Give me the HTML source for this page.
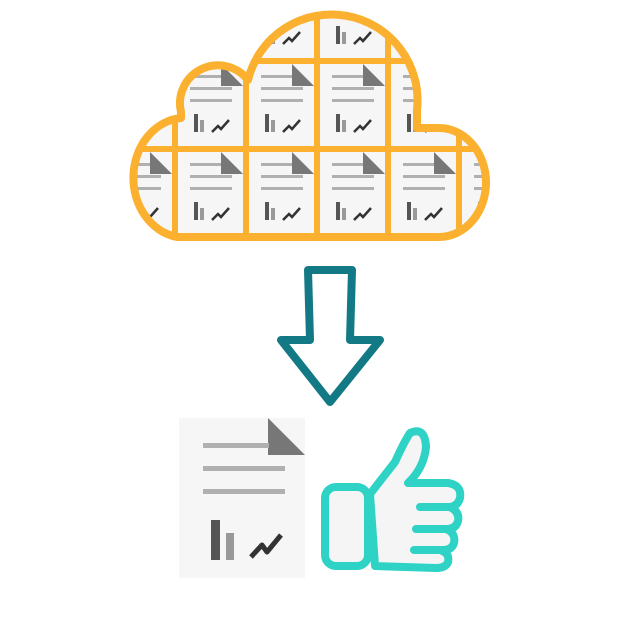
<!DOCTYPE html>
<html><head><meta charset="utf-8"><style>html,body{margin:0;padding:0;background:#fff}svg{display:block}</style></head>
<body>
<svg width="644" height="644" viewBox="0 0 644 644" xmlns="http://www.w3.org/2000/svg">
<defs>
<g id="doc">
<rect x="0" y="0" width="65" height="82" fill="#f6f6f6"/>
<polygon points="43,0 65,22 43,22" fill="#777"/>
<rect x="12" y="11" width="31" height="3" fill="#b0b0b0"/>
<rect x="12" y="23" width="42" height="3" fill="#b0b0b0"/>
<rect x="12" y="35" width="42" height="3" fill="#b0b0b0"/>
<rect x="16" y="50" width="4" height="18" fill="#555"/>
<rect x="22" y="56" width="4" height="12" fill="#999"/>
<polyline points="34,68 40,62 43,65 51,56" fill="none" stroke="#333" stroke-width="2.5"/>
</g>
<path id="cloud" d="M177,237 A52,60 0 0 1 181,118 L181,112 A38,38 0 0 1 248,80 A86,86 0 0 1 417,110 L417,128 L438,128 A47,54.5 0 0 1 440,237 Z"/>
<clipPath id="cl"><use href="#cloud"/></clipPath>
</defs>
<use href="#cloud" fill="#fbb12f"/>
<g clip-path="url(#cl)">
<use href="#doc" x="107" y="-24"/><use href="#doc" x="178" y="-24"/><use href="#doc" x="249" y="-24"/><use href="#doc" x="320" y="-24"/><use href="#doc" x="391" y="-24"/><use href="#doc" x="462" y="-24"/>
<use href="#doc" x="107" y="64"/><use href="#doc" x="178" y="64"/><use href="#doc" x="249" y="64"/><use href="#doc" x="320" y="64"/><use href="#doc" x="391" y="64"/><use href="#doc" x="462" y="64"/>
<use href="#doc" x="107" y="152"/><use href="#doc" x="178" y="152"/><use href="#doc" x="249" y="152"/><use href="#doc" x="320" y="152"/><use href="#doc" x="391" y="152"/><use href="#doc" x="462" y="152"/>
</g>
<use href="#cloud" fill="none" stroke="#fbb12f" stroke-width="8" stroke-linejoin="round"/>
<!-- arrow -->
<polygon points="308,270 352,270 350,340 380,340 330,402 281,340 310,340" fill="#fff" stroke="#137a85" stroke-width="8" stroke-linejoin="round"/>
<!-- big doc -->
<rect x="179" y="418" width="126" height="160" fill="#f6f6f6"/>
<polygon points="268,418 305,455 268,455" fill="#777"/>
<rect x="203" y="443" width="66" height="5" fill="#b0b0b0"/>
<rect x="203" y="466" width="82" height="5" fill="#b0b0b0"/>
<rect x="203" y="489" width="82" height="5" fill="#b0b0b0"/>
<rect x="211" y="520" width="9" height="40" fill="#555"/>
<rect x="226" y="533" width="8" height="27" fill="#999"/>
<polyline points="251,557 262,545 267,552 281,535" fill="none" stroke="#333" stroke-width="5" stroke-linejoin="round"/>
<!-- thumb -->
<path d="M370,494 L395,462 Q404,442 410,433 Q425,426 426,447 Q424,468 408,483 L448,483 Q462,485 460,498 Q458,506 450,507 L420,507 L450,507 Q460,512 458,521 Q456,529 447,529 L416,529 L446,529 Q456,533 454,543 Q452,550 443,550 L414,550 L440,550 Q450,553 448,562 Q446,568 436,568 L375,566 Z" fill="#f5f5f5" stroke="#2ed3c6" stroke-width="8" stroke-linejoin="round"/>
<rect x="325" y="487" width="43" height="79" rx="11" fill="#f5f5f5" stroke="#2ed3c6" stroke-width="8"/>
</svg>
</body></html>
